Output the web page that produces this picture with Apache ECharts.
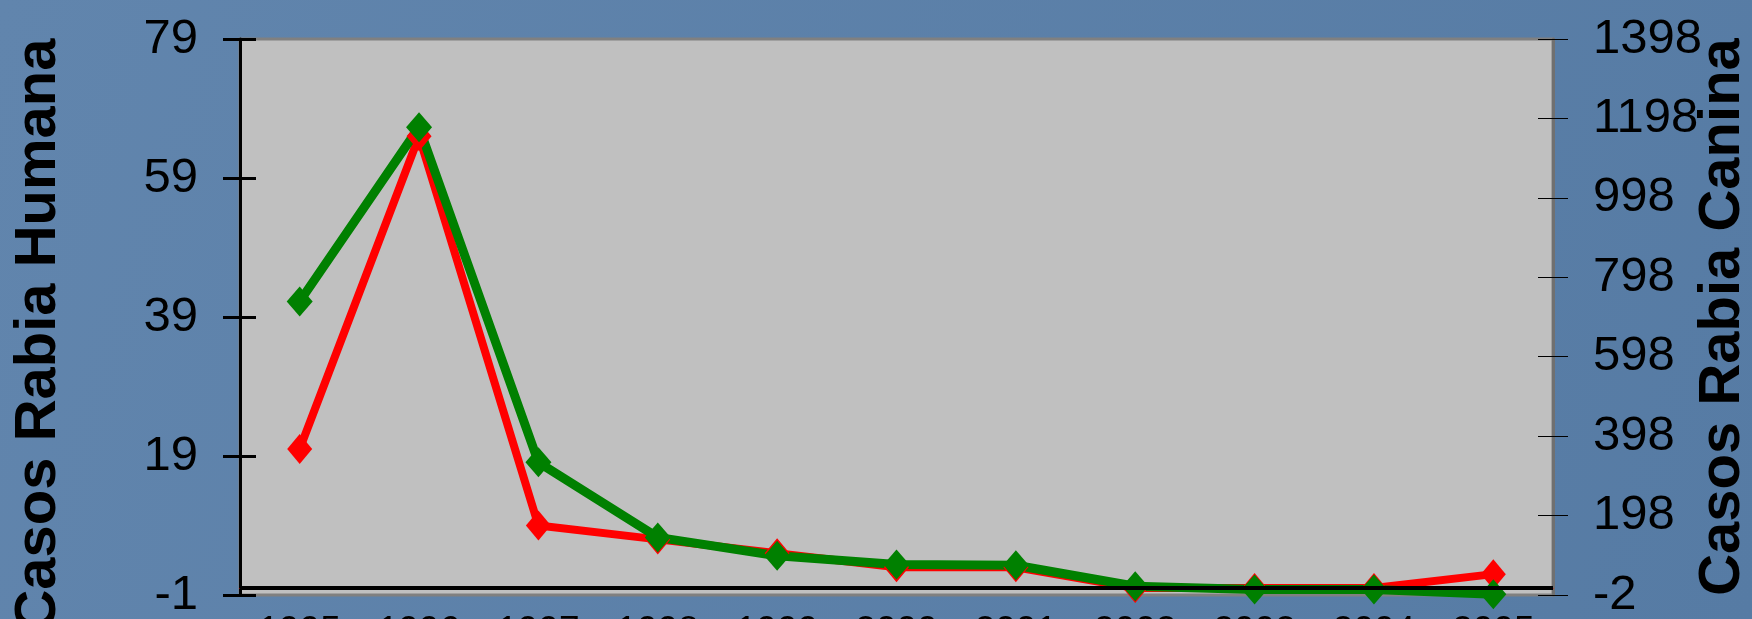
<!DOCTYPE html>
<html>
<head>
<meta charset="utf-8">
<script src="https://cdn.jsdelivr.net/npm/echarts@6/dist/echarts.min.js"></script>
<style>
  html, body { margin: 0; padding: 0; }
  #chart { width: 1752px; height: 619px; }
</style>
</head>
<body>
<div id="chart"></div>
<script>
// años (las etiquetas del eje quedan cortadas abajo)
const years = ['1995', '1996', '1997', '1998', '1999', '2000', '2001', '2002', '2003', '2004', '2005']
// casos de rabia humana (eje izquierdo)
const humanCases = [20, 65, 9, 7, 5, 3, 3, 0, 0, 0, 2]
// casos de rabia canina (eje derecho)
const canineCases = [737, 1176, 332, 143, 97, 75, 73, 20, 12, 12, 0]

const leftMin = -1
const leftMax = 79
const leftStep = 20
const rightMin = -2
const rightMax = 1398
const rightStep = 200

const font = "'Liberation Sans', Arial, sans-serif"
const plain = function(v) { return String(v) }

const chart = echarts.init(document.getElementById('chart'))
chart.setOption({
  animation: false,
  backgroundColor: {
    type: 'linear',
    x: 0, y: 0, x2: 1, y2: 1,
    colorStops: [
      { offset: 0, color: '#6185ad' },
      { offset: 1, color: '#567ba4' }
    ]
  },
  grid: {
    left: 240,
    right: 199,
    top: 39,
    bottom: 24,
    outerBoundsMode: 'none',
    containLabel: false,
    show: true,
    backgroundColor: '#c0c0c0',
    borderColor: '#808080',
    borderWidth: 3
  },
  xAxis: {
    type: 'category',
    data: years,
    boundaryGap: true,
    axisLine: { lineStyle: { color: '#ff0000', width: 1 } },
    axisTick: { interval: 0, length: 40, lineStyle: { color: '#ff0000', width: 1 } },
    axisLabel: { interval: 0, margin: 18, fontSize: 37, color: '#000', fontFamily: font },
    splitLine: { show: false }
  },
  yAxis: [
    {
      // eje izquierdo principal
      type: 'value',
      position: 'left',
      min: leftMin,
      max: leftMax,
      interval: leftStep,
      name: 'Casos Rabia Humana',
      nameLocation: 'middle',
      nameGap: 172,
      nameMoveOverlap: false,
      nameTextStyle: {
        fontSize: 58,
        fontWeight: 'bold',
        color: '#000',
        fontFamily: font,
        padding: [0, 36, 0, 0]
      },
      axisLine: { show: true, lineStyle: { color: '#000', width: 3 } },
      axisTick: { show: true, length: 17, lineStyle: { color: '#000', width: 3 } },
      axisLabel: { margin: 42, fontSize: 49, color: '#000', fontFamily: font, formatter: plain },
      splitLine: { show: false }
    },
    {
      // eje derecho principal
      type: 'value',
      position: 'right',
      min: rightMin,
      max: rightMax,
      interval: rightStep,
      name: 'Casos Rabia Canina',
      nameLocation: 'middle',
      nameGap: 141,
      nameMoveOverlap: false,
      nameTextStyle: {
        fontSize: 58,
        fontWeight: 'bold',
        color: '#000',
        fontFamily: font
      },
      axisLine: { show: true, lineStyle: { color: '#707070', width: 3 } },
      axisTick: { show: true, length: 15, lineStyle: { color: '#000', width: 1 } },
      axisLabel: { margin: 40, fontSize: 49, color: '#000', fontFamily: font, formatter: plain },
      splitLine: { show: false }
    },
    {
      // marcas hacia dentro, izquierda
      type: 'value',
      position: 'left',
      min: leftMin,
      max: leftMax,
      interval: leftStep,
      axisLine: { show: false },
      axisTick: { show: true, inside: true, length: 16, lineStyle: { color: '#000', width: 3 } },
      axisLabel: { show: false },
      splitLine: { show: false }
    },
    {
      // marcas hacia dentro, derecha
      type: 'value',
      position: 'right',
      min: rightMin,
      max: rightMax,
      interval: rightStep,
      axisLine: { show: false },
      axisTick: { show: true, inside: true, length: 15, lineStyle: { color: '#000', width: 1 } },
      axisLabel: { show: false },
      splitLine: { show: false }
    }
  ],
  series: [
    {
      name: 'Humana',
      type: 'line',
      yAxisIndex: 0,
      data: humanCases,
      symbol: 'diamond',
      symbolSize: [25, 30],
      lineStyle: { color: '#ff0000', width: 8 },
      itemStyle: { color: '#ff0000' },
      markLine: {
        silent: true,
        symbol: 'none',
        label: { show: false },
        lineStyle: { color: '#000', width: 4, type: 'solid' },
        data: [{ yAxis: 0 }]
      }
    },
    {
      name: 'Canina',
      type: 'line',
      yAxisIndex: 1,
      data: canineCases,
      symbol: 'diamond',
      symbolSize: [26, 30],
      lineStyle: { color: '#008000', width: 9 },
      itemStyle: { color: '#008000' }
    }
  ]
})
</script>
</body>
</html>
